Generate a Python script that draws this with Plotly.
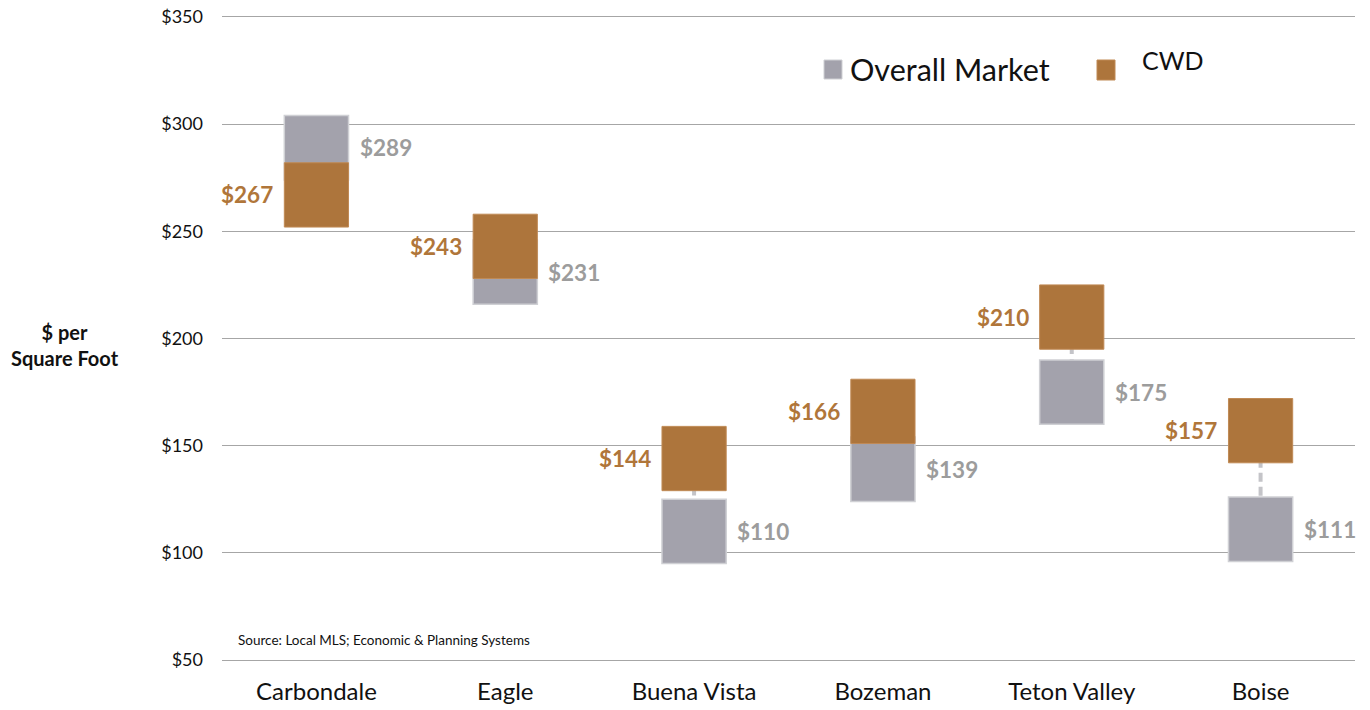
import plotly.graph_objects as go

categories = ["Carbondale", "Eagle", "Buena Vista", "Bozeman", "Teton Valley", "Boise"]
overall_market = [289, 231, 110, 139, 175, 111]
cwd = [267, 243, 144, 166, 210, 157]
tick_vals = [50, 100, 150, 200, 250, 300, 350]
tick_text = ["$50", "$100", "$150", "$200", "$250", "$300", "$350"]

HALF = 15  # half box height in $
BOXW = 0.34
GRAY = "#a3a2ac"
GRAY_LINE = "#cfd0d4"
BROWN = "#ad753c"
BROWN_LINE = "#c08a55"
GRAY_TXT = "#9c9c9c"
BROWN_TXT = "#b0763a"
GRID = "#a6a6a6"
FONT = "Lato"

OFF = 8  # page body margin
W, H = 1370 - OFF, 710 - OFF
L, R, T, B = 222 - OFF, 15, 17 - OFF, 50
PW, PH = W - L - R, H - T - B

def px(x):
    return (x - OFF - L) / PW

def py(y):
    return (H - B - (y - OFF)) / PH

xs = list(range(len(categories)))

fig = go.Figure()
fig.add_trace(go.Bar(
    x=xs, y=[2 * HALF] * len(xs), base=[v - HALF for v in overall_market],
    width=BOXW, marker=dict(color=GRAY, line=dict(color=GRAY_LINE, width=1.5)),
    name="Overall Market", showlegend=False, hoverinfo="skip"))
fig.add_trace(go.Bar(
    x=xs, y=[2 * HALF] * len(xs), base=[v - HALF for v in cwd],
    width=BOXW, marker=dict(color=BROWN, line=dict(color=BROWN_LINE, width=1)),
    name="CWD", showlegend=False, hoverinfo="skip"))

shapes = []
for i, (g, c) in enumerate(zip(overall_market, cwd)):
    shapes.append(dict(type="line", xref="x", yref="y", x0=i, x1=i, y0=c, y1=g,
                       line=dict(color="#c4c4c8", width=4, dash="9px,5px"), layer="between"))

annotations = []
for i, (g, c) in enumerate(zip(overall_market, cwd)):
    annotations.append(dict(x=i - BOXW / 2, y=c, xref="x", yref="y", text=f"<b>${c}</b>",
                            showarrow=False, xanchor="right", yanchor="middle", xshift=-9,
                            font=dict(family=FONT, size=22.5, color=BROWN_TXT)))
    annotations.append(dict(x=i + BOXW / 2, y=g, xref="x", yref="y", text=f"<b>${g}</b>",
                            showarrow=False, xanchor="left", yanchor="middle", xshift=9,
                            font=dict(family=FONT, size=22.5, color=GRAY_TXT)))

# legend
shapes.append(dict(type="rect", xref="paper", yref="paper", x0=px(824), x1=px(842), y0=py(79), y1=py(60),
                   fillcolor=GRAY, line=dict(color=GRAY_LINE, width=1)))
shapes.append(dict(type="rect", xref="paper", yref="paper", x0=px(1097), x1=px(1115), y0=py(80), y1=py(60),
                   fillcolor=BROWN, line=dict(color=BROWN_LINE, width=1)))
annotations.append(dict(x=px(848), y=py(69), xref="paper", yref="paper", text="Overall Market",
                        showarrow=False, xanchor="left", yanchor="middle",
                        font=dict(family=FONT, size=30.5, color="#111111")))
annotations.append(dict(x=px(1140), y=py(60), xref="paper", yref="paper", text="CWD",
                        showarrow=False, xanchor="left", yanchor="middle",
                        font=dict(family=FONT, size=25, color="#111111")))
# y title
annotations.append(dict(x=px(65), y=py(345), xref="paper", yref="paper",
                        text="<b>$ per</b><br><b>Square Foot</b>", showarrow=False,
                        xanchor="center", yanchor="middle", align="center",
                        font=dict(family=FONT, size=20, color="#111111")))
# source
annotations.append(dict(x=px(236), y=py(640), xref="paper", yref="paper",
                        text="Source: Local MLS; Economic &amp; Planning Systems", showarrow=False,
                        xanchor="left", yanchor="middle",
                        font=dict(family=FONT, size=13.5, color="#111111")))

fig.update_layout(
    width=W, height=H, margin=dict(l=L, r=R, t=T, b=B, autoexpand=False),
    paper_bgcolor="white", plot_bgcolor="white",
    barmode="overlay", showlegend=False,
    shapes=shapes, annotations=annotations,
    font=dict(family=FONT, color="#111111"),
    xaxis=dict(tickmode="array", tickvals=xs, ticktext=categories, range=[-0.5, 5.5],
               showgrid=False, zeroline=False, showline=True, mirror=True,
               linecolor=GRID, linewidth=1, ticks="", automargin=False,
               ticklabelstandoff=10, tickfont=dict(family=FONT, size=24, color="#111111")),
    yaxis=dict(range=[50, 350], tickmode="array", tickvals=tick_vals, ticktext=tick_text,
               showgrid=True, gridcolor=GRID, gridwidth=1, zeroline=False, showline=False,
               ticks="", automargin=False, ticklabelstandoff=18, ticklabeloverflow="allow",
               tickfont=dict(family=FONT, size=18, color="#111111")),
)

fig.write_html("out.html")
